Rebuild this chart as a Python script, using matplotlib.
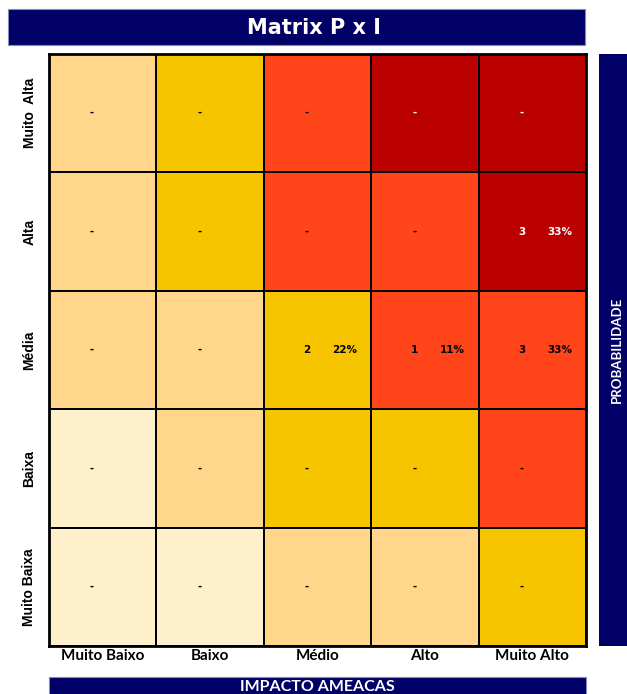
import matplotlib
matplotlib.use("Agg")
import matplotlib.pyplot as plt
from matplotlib.colors import ListedColormap
from matplotlib.patches import Rectangle
import numpy as np

plt.rcParams['font.family'] = ['Lato', 'DejaVu Sans']

# Axis categories
impact_labels = ["Muito Baixo", "Baixo", "Médio", "Alto", "Muito Alto"]
prob_labels = ["Muito Baixa", "Baixa", "Média", "Alta", "Muito  Alta"]  # bottom -> top

# Risk level per cell (rows bottom -> top, columns left -> right)
# 0 very low, 1 low, 2 medium, 3 high, 4 critical
risk_level = [
    [0, 0, 1, 1, 2],  # Muito Baixa
    [0, 1, 2, 2, 3],  # Baixa
    [1, 1, 2, 3, 3],  # Média
    [1, 2, 3, 3, 4],  # Alta
    [1, 2, 3, 4, 4],  # Muito Alta
]
level_colors = ["#FFF0CC", "#FFD68A", "#F6C500", "#FF4519", "#BB0000"]

# Number of threats in each cell
counts = [
    [0, 0, 0, 0, 0],
    [0, 0, 0, 0, 0],
    [0, 0, 2, 1, 3],
    [0, 0, 0, 0, 3],
    [0, 0, 0, 0, 0],
]
total = sum(sum(r) for r in counts)

W, H = 627, 694
fig = plt.figure(figsize=(W / 100, H / 100), dpi=100)

def fx(px):
    return px / W

def fy(py):
    return 1 - py / H

navy = "#000066"

# Title banner
fig.patches.append(Rectangle((fx(8), fy(45)), fx(577), 36 / H, transform=fig.transFigure,
                             facecolor=navy, edgecolor="#8888bb", lw=0.8))
fig.text(fx(314), fy(28), "Matrix P x I", color="white", fontsize=15,
         fontweight="bold", ha="center", va="center", family="DejaVu Sans")

# Side banner
fig.patches.append(Rectangle((fx(599), fy(646)), fx(40), 592 / H, transform=fig.transFigure,
                             facecolor=navy, edgecolor="none"))
fig.text(fx(617), fy(350), "PROBABILIDADE", color="white", fontsize=9.5,
         fontweight="bold", ha="center", va="center", rotation=90)

# Bottom banner
fig.patches.append(Rectangle((fx(49), fy(710)), fx(537), 33 / H, transform=fig.transFigure,
                             facecolor=navy, edgecolor="#8888bb", lw=0.8))
fig.text(fx(317), fy(687), "IMPACTO AMEACAS", color="white", fontsize=11.5,
         fontweight="bold", ha="center", va="center")

ax = fig.add_axes([fx(49), fy(646), fx(537), 592 / H])
cmap = ListedColormap(level_colors)
ax.pcolormesh(np.arange(6), np.arange(6), np.array(risk_level), cmap=cmap,
              vmin=-0.5, vmax=4.5, edgecolors="black", linewidth=1.2)
ax.set_xlim(0, 5)
ax.set_ylim(0, 5)

cell_font = dict(fontsize=7.5, fontweight="bold", family="DejaVu Sans",
                 ha="center", va="center")
for r in range(5):
    for c in range(5):
        n = counts[r][c]
        tc = "white" if risk_level[r][c] == 4 else "black"
        if n == 0:
            ax.text(c + 0.4, r + 0.5, "-", color=tc, **cell_font)
        else:
            ax.text(c + 0.4, r + 0.5, f"{n}", color=tc, **cell_font)
            ax.text(c + 0.755, r + 0.5, f"{n / total:.0%}", color=tc, **cell_font)

ax.set_xticks(np.arange(5) + 0.5)
ax.set_xticklabels(impact_labels, fontsize=11, fontweight="bold")
ax.set_yticks(np.arange(5) + 0.5)
ax.set_yticklabels(prob_labels, fontsize=10, fontweight="bold", rotation=90, va="center",
                   family="Liberation Sans")
ax.tick_params(length=0, pad=2)
ax.tick_params(axis="y", pad=9)
for s in ax.spines.values():
    s.set_linewidth(2)
    s.set_color("black")

fig.savefig("out.png", dpi=100)
